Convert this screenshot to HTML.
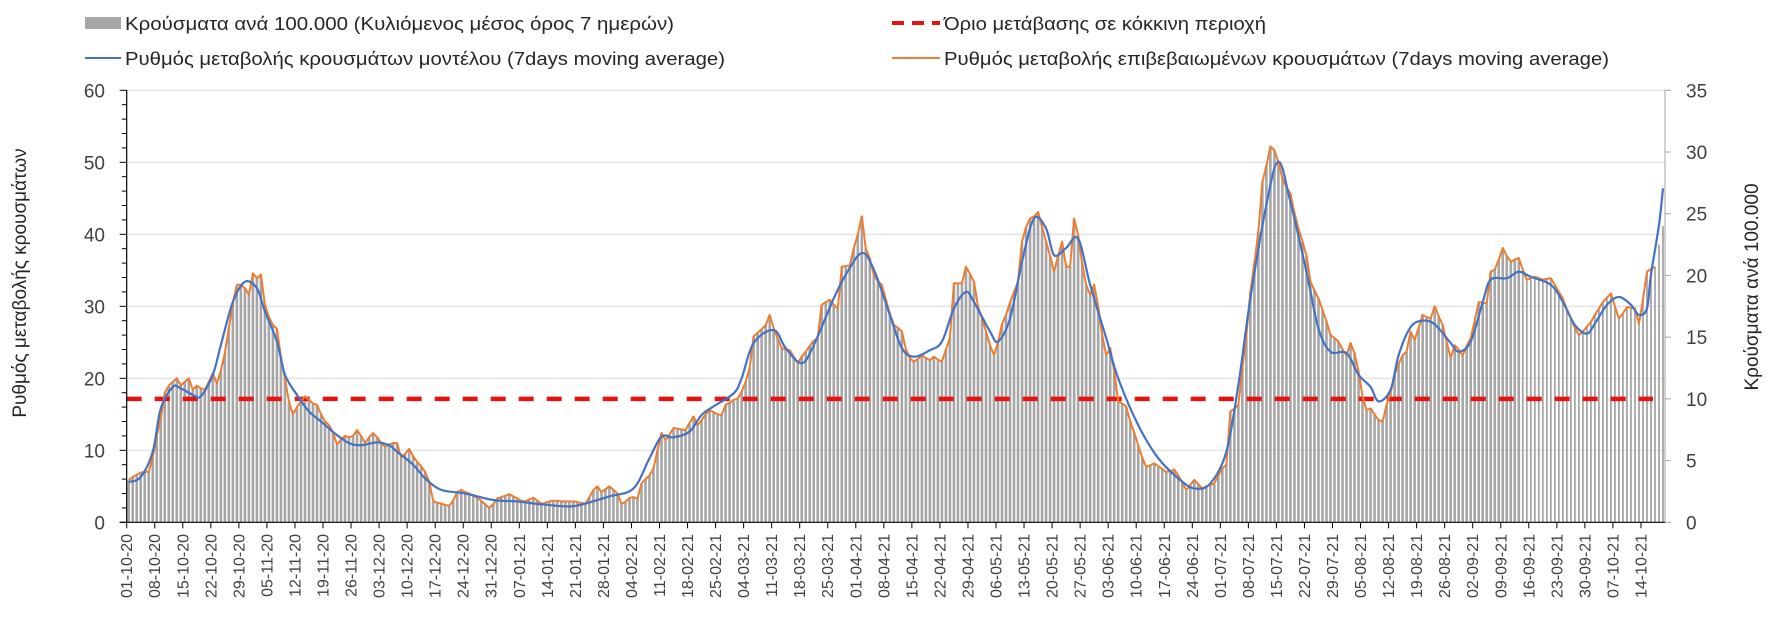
<!DOCTYPE html>
<html><head><meta charset="utf-8">
<style>
html,body{margin:0;padding:0;background:#fff;}
svg{display:block;font-family:"Liberation Sans",sans-serif;}
</style></head>
<body>
<svg id="chart" width="1771" height="621" viewBox="0 0 1771 621" xmlns="http://www.w3.org/2000/svg">
  <g id="grid"></g>
  <g id="bars"></g>
  <g id="lines"></g>
  <g id="axes"></g>
  <g id="legend">
    <g>
      <rect x="85" y="17" width="36" height="12" fill="#a6a6a6"/>
      <text x="125" y="30" font-size="18" fill="#262626" textLength="549" lengthAdjust="spacingAndGlyphs">Κρούσματα ανά 100.000 (Κυλιόμενος μέσος όρος 7 ημερών)</text>
    </g>
    <g>
      <line x1="85" y1="58" x2="121" y2="58" stroke="#4472c4" stroke-width="2"/>
      <text x="125" y="65" font-size="18" fill="#262626" textLength="600" lengthAdjust="spacingAndGlyphs">Ρυθμός μεταβολής κρουσμάτων μοντέλου (7days moving average)</text>
    </g>
    <g>
      <line x1="892" y1="23" x2="940" y2="23" stroke="#e8130f" stroke-width="4" stroke-dasharray="12,8"/>
      <text x="944" y="30" font-size="18" fill="#262626" textLength="322" lengthAdjust="spacingAndGlyphs">Όριο μετάβασης σε κόκκινη περιοχή</text>
    </g>
    <g>
      <line x1="892" y1="58" x2="940" y2="58" stroke="#ed7d31" stroke-width="2"/>
      <text x="944" y="65" font-size="18" fill="#262626" textLength="665" lengthAdjust="spacingAndGlyphs">Ρυθμός μεταβολής επιβεβαιωμένων κρουσμάτων (7days moving average)</text>
    </g>
  </g>
  <text transform="translate(26,283) rotate(-90)" text-anchor="middle" font-size="19" fill="#262626">Ρυθμός μεταβολής κρουσμάτων</text>
  <text transform="translate(1758,287) rotate(-90)" text-anchor="middle" font-size="19" fill="#262626">Κρούσματα ανά 100.000</text>
</svg>
<script>
// ---- data ----
const startDate = [2020, 9, 1]; // 01-10-2020 (month zero-based)
const dayCount = 384;
const tickEveryDays = 7;
const leftTicks = [0,10,20,30,40,50,60];
const rightTicks = [0,5,10,15,20,25,30,35];
const thresholdRight = 10;
// bars: cases per 100k (right axis), daily
const barValues = [
3.4,3.7,3.8,4.0,4.1,4.1,5.2, 7.0,8.5,10.5,11.1,11.4,11.7,11.1, 11.4,11.7,10.7,11.1,10.8,10.7,11.4,
12.1,11.3,12.2,13.7,15.7,17.8,19.2, 19.2,19.0,18.4,20.2,19.8,20.1,17.6, 16.6,16.0,15.7,13.4,11.7,9.8,8.7,
9.3,9.8,10.2,9.9,9.6,9.5,8.7, 8.2,7.9,7.3,6.3,6.7,7.0,6.9, 7.0,7.5,7.0,6.4,6.9,7.2,6.9,
6.4,6.1,6.3,6.4,6.4,5.2,5.5, 5.9,5.4,4.9,4.5,4.1,3.3,1.7, 1.6,1.5,1.4,1.3,1.7,2.4,2.6,
2.4,2.3,2.2,2.0,1.7,1.5,1.2, 1.5,1.9,2.0,2.2,2.3,2.1,1.9, 1.7,1.7,1.9,2.0,1.7,1.5,1.6,
1.7,1.7,1.7,1.7,1.7,1.7,1.7, 1.6,1.6,1.5,2.0,2.6,2.9,2.4, 2.7,2.9,2.6,2.3,1.5,1.6,2.0,
2.0,1.9,3.1,3.5,3.8,4.4,5.8, 7.2,6.6,7.1,7.6,7.6,7.5,7.5, 8.0,8.6,7.9,8.3,8.7,9.1,8.9,
8.7,8.7,9.5,9.7,9.9,10.0,10.6, 11.4,12.5,15.0,15.3,15.6,16.0,16.8, 15.7,14.9,14.1,14.0,13.9,13.4,12.9,
13.4,13.8,14.3,14.7,14.9,17.6,17.8, 18.0,17.6,17.3,20.7,20.8,20.8,22.2, 23.3,24.8,22.2,21.4,20.1,19.5,19.2,
18.1,16.9,16.0,15.7,15.4,14.0,13.3, 13.0,13.2,13.5,13.3,13.1,13.4,13.2, 13.0,14.0,14.9,19.4,19.4,19.4,20.7,
20.1,19.5,17.5,16.5,15.4,14.3,13.5, 14.6,16.0,16.8,17.8,18.7,19.5,22.7, 23.9,24.6,24.8,25.1,23.9,22.7,21.6,
20.3,21.6,22.7,20.7,20.7,24.6,23.3, 21.0,19.2,18.4,19.2,17.5,15.2,13.5, 14.1,12.2,9.8,9.6,9.4,8.2,7.3,
6.2,5.2,4.5,4.6,4.8,4.5,4.3, 4.1,4.1,4.3,3.8,3.2,2.6,3.0, 3.4,3.1,2.7,2.9,3.0,3.1,3.8,
4.4,4.7,9.0,9.2,9.5,12.5,15.2, 18.7,21.0,23.6,27.6,28.9,30.4,30.1, 29.2,27.9,27.1,26.6,25.1,23.8,22.7,
21.6,19.5,18.8,18.1,17.2,16.3,15.2, 14.9,14.6,14.0,13.5,14.5,13.7,12.2, 10.2,9.1,9.2,8.7,8.3,8.2,9.5,
10.5,12.0,12.8,13.5,13.8,15.4,14.8, 15.7,16.8,16.6,16.5,17.5,16.7,16.0, 14.6,13.3,14.3,14.0,13.5,14.3,14.9,
16.3,17.8,17.8,17.7,20.3,20.5,21.3, 22.2,21.6,21.1,21.3,21.4,20.5,19.6, 19.8,19.9,19.8,19.6,19.7,19.8,19.2,
18.7,18.1,17.2,16.5,15.7,15.2,15.4, 15.9,16.2,16.8,17.3,17.8,18.2,18.5, 17.5,16.5,16.9,17.4,17.4,17.3,16.1,
18.1,20.3,20.5,20.7,22.5,24.0];
// orange: confirmed-case rate (left axis), daily
const confirmedRate = [
5.9,6.3,6.6,6.9,7.0,7.0,9.0, 12,14.5,18,19,19.5,20,19, 19.5,20,18.4,19,18.6,18.4,19.5,
20.7,19.3,21,23.5,27,30.5,33, 33,32.5,31.6,34.6,33.9,34.4,30.2, 28.5,27.4,26.9,23,20,16.8,15,
16,16.8,17.5,17,16.5,16.3,15, 14,13.5,12.5,10.8,11.5,12,11.8, 12,12.8,12,11,11.8,12.4,11.8,
11,10.5,10.8,11,11,9,9.5, 10.2,9.2,8.4,7.8,7,5.6,3, 2.7,2.6,2.4,2.3,3,4.2,4.5,
4.2,4.0,3.7,3.4,3.0,2.5,2.0, 2.5,3.3,3.5,3.7,3.9,3.6,3.3, 3.0,2.9,3.2,3.4,3.0,2.6,2.7,
2.9,3.0,3.0,2.9,2.9,2.9,2.9, 2.8,2.7,2.6,3.5,4.5,5.0,4.2, 4.6,5.0,4.5,4.0,2.6,2.8,3.4,
3.5,3.3,5.4,6,6.5,7.5,10, 12.4,11.4,12.2,13.1,13,12.9,12.8, 13.8,14.7,13.5,14.2,15,15.6,15.3,
15,14.9,16.3,16.6,17,17.2,18.1, 19.5,21.4,25.8,26.3,26.8,27.4,28.8, 27,25.5,24.2,24,23.9,23,22.1,
23,23.7,24.5,25.2,25.6,30.2,30.6, 30.9,30.2,29.7,35.5,35.6,35.7,38.1, 40,42.5,38,36.7,34.4,33.5,33,
31,29,27.4,27,26.5,24,22.8, 22.3,22.7,23.2,22.8,22.5,23,22.6, 22.3,24,25.6,33.2,33.2,33.2,35.5,
34.5,33.4,30,28.3,26.5,24.6,23.2, 25,27.5,28.8,30.5,32,33.4,39, 41,42.2,42.5,43.1,41,39,37,
34.8,37,39,35.5,35.5,42.2,39.9, 36,33,31.6,33,30,26,23.2, 24.2,21,16.8,16.5,16.1,14,12.5,
10.7,9,7.7,7.9,8.2,7.8,7.4, 7,7.1,7.3,6.5,5.5,4.5,5.2, 5.9,5.3,4.7,5,5.2,5.4,6.5,
7.5,8,15.4,15.8,16.3,21.4,26, 32,36,40.4,47.3,49.5,52.2,51.7, 50,47.8,46.5,45.7,43,40.8,39,
37,33.4,32.2,31.1,29.5,27.9,26, 25.6,25.1,24,23.2,24.9,23.5,21, 17.5,15.6,15.8,15,14.2,14,16.3,
18,20.5,22,23.2,23.7,26.5,25.3, 27,28.8,28.5,28.3,30,28.6,27.4, 25,22.8,24.6,24,23.2,24.5,25.6,
28,30.6,30.5,30.4,34.8,35.1,36.5, 38.1,37,36.2,36.5,36.7,35.1,33.7, 33.9,34.1,33.9,33.7,33.8,33.9,33,
32,31.1,29.5,28.3,27,26,26.5, 27.2,27.8,28.8,29.7,30.6,31.2,31.8, 30,28.3,29,29.9,29.8,29.7,27.6,
31,34.8,35.2,35.5];
// blue: model rate (left axis), sampled day indices and values
const modelDays = [0,3,6,8,11,13,16,18,21,23,26,29,32,34,37,39,42,45,48,52,55,58,62,65,67,71,74,78,84,91,97,103,110,114,120,126,130,133,136,140,143,146,151,153,156,161,164,168,171,176,179,183,186,190,193,196,200,203,206,209,211,215,217,220,223,226,229,231,234,237,240,244,247,252,257,262,266,270,274,277,280,284,287,290,294,297,300,304,307,310,312,315,317,320,323,326,330,332,335,338,340,344,347,350,355,358,361,364,366,369,372,375,377,379,380,382,383];
const modelValues = [5.6,6.3,9.8,15.8,18.8,18.6,17.7,17.5,20.5,24.6,30.6,33.4,32.5,29.3,25.1,20.5,17.7,15.4,14,12.1,11,10.7,11.1,10.7,9.8,8,6.1,4.5,4.0,3.1,2.9,2.5,2.2,2.6,3.6,4.7,8.9,11.9,11.8,12.6,14.9,16.1,17.9,20,24.9,26.7,24.2,22.1,24.6,31.1,34.4,37.4,35.1,28.8,24.2,23,23.9,25.1,29.7,32,30.6,26.5,25.1,28.3,36.2,42.2,40.8,37.1,38.1,39.4,33,25.6,20,13.5,8.9,6.1,4.7,5.4,9.8,19.1,31.1,44.1,50.1,44.5,34.8,26.9,23.7,23.5,20.5,18.8,16.8,18.4,23.2,27.1,28,27.5,24.9,23.7,25.1,30.6,33.7,33.9,34.8,34.1,33,30.6,27.4,26.2,27.6,30.2,31.3,30.2,28.8,29.7,34.4,41.3,46.4];

// ---- layout ----
const NS = 'http://www.w3.org/2000/svg';
const PL = 126.7, PR = 1665, PT = 90.3, PB = 522.3;
const bw = (PR - PL) / dayCount;
const xEdge = i => PL + i * bw;
const xC = i => PL + (i + 0.5) * bw;
const yL = v => PB - v / 60 * (PB - PT);
const yR = v => PB - v / 35 * (PB - PT);
function mk(tag, attrs, parent) {
  const e = document.createElementNS(NS, tag);
  for (const k in attrs) e.setAttribute(k, attrs[k]);
  parent.appendChild(e);
  return e;
}
const grid = document.getElementById('grid');
const barsG = document.getElementById('bars');
const linesG = document.getElementById('lines');
const axes = document.getElementById('axes');

leftTicks.forEach(t => {
  if (t === 0) return;
  const l = mk('line', {x1: PL, x2: PR, y1: yL(t), y2: yL(t), stroke: '#d9d9d9', 'stroke-width': 1}, grid);
  
  
});

barValues.forEach((v, i) => {
  const w = i >= 348 ? 1.8 : 2.6;
  const r = mk('rect', {x: xC(i) - w / 2, y: yR(v), width: w, height: PB - yR(v), fill: '#a6a6a6'}, barsG);
  
  
});

// threshold line
const thr = mk('line', {x1: PL, x2: 1653, y1: yR(thresholdRight), y2: yR(thresholdRight), stroke: '#e8130f', 'stroke-width': 4.5, 'stroke-dasharray': '15,13'}, linesG);



// orange
let d = confirmedRate.map((v, i) => (i ? 'L' : 'M') + xC(i).toFixed(1) + ',' + yL(v).toFixed(1)).join('');
const po = mk('path', {d: d, fill: 'none', stroke: '#ed7d31', 'stroke-width': 2, 'stroke-linejoin': 'round'}, linesG);



// blue (smoothed Catmull-Rom through samples)
const pts = modelDays.map((dd, i) => [xC(dd), yL(modelValues[i])]);
let bd = 'M' + pts[0][0] + ',' + pts[0][1];
for (let i = 0; i < pts.length - 1; i++) {
  const p0 = pts[Math.max(0, i - 1)], p1 = pts[i], p2 = pts[i + 1], p3 = pts[Math.min(pts.length - 1, i + 2)];
  const c1 = [p1[0] + (p2[0] - p0[0]) / 6, p1[1] + (p2[1] - p0[1]) / 6];
  const c2 = [p2[0] - (p3[0] - p1[0]) / 6, p2[1] - (p3[1] - p1[1]) / 6];
  bd += 'C' + c1.join(',') + ' ' + c2.join(',') + ' ' + p2.join(',');
}
const pb = mk('path', {d: bd, fill: 'none', stroke: '#4472c4', 'stroke-width': 2.2}, linesG);



// left axis
const la = mk('line', {x1: PL, x2: PL, y1: PT, y2: PB, stroke: '#000', 'stroke-width': 1.2}, axes);


for (let v = 0; v <= 60; v += 2) {
  const major = v % 10 === 0;
  mk('line', {x1: PL - (major ? 7 : 5), x2: PL, y1: yL(v), y2: yL(v), stroke: '#000', 'stroke-width': 1}, axes);
}
leftTicks.forEach(t => {
  const tx = mk('text', {x: 105, y: yL(t) + 7, 'text-anchor': 'end', 'font-size': 19, fill: '#404040'}, axes);
  tx.textContent = t;
  
  
});
// right axis
const ra = mk('line', {x1: PR, x2: PR, y1: PT, y2: PB, stroke: '#a6a6a6', 'stroke-width': 1}, axes);


rightTicks.forEach(t => {
  mk('line', {x1: PR, x2: PR + 6, y1: yR(t), y2: yR(t), stroke: '#a6a6a6', 'stroke-width': 1}, axes);
  const tx = mk('text', {x: 1686, y: yR(t) + 7, 'font-size': 19, fill: '#404040'}, axes);
  tx.textContent = t;
  
  
});
// x axis
const xa = mk('line', {x1: PL - 7, x2: PR, y1: PB, y2: PB, stroke: '#000', 'stroke-width': 1.2}, axes);


const pad = n => (n < 10 ? '0' : '') + n;
for (let i = 0; i < dayCount; i += tickEveryDays) {
  const x = xEdge(i);
  mk('line', {x1: x, x2: x, y1: PB, y2: PB + 6, stroke: '#000', 'stroke-width': 1}, axes);
  const dt = new Date(Date.UTC(startDate[0], startDate[1], startDate[2] + i));
  const lab = pad(dt.getUTCDate()) + '-' + pad(dt.getUTCMonth() + 1) + '-' + String(dt.getUTCFullYear()).slice(2);
  const tx = mk('text', {transform: 'translate(' + (x + 5.5) + ',' + 534 + ') rotate(-90)', 'text-anchor': 'end', 'font-size': 16, fill: '#404040'}, axes);
  tx.textContent = lab;
  
  
}
</script>
</body></html>
